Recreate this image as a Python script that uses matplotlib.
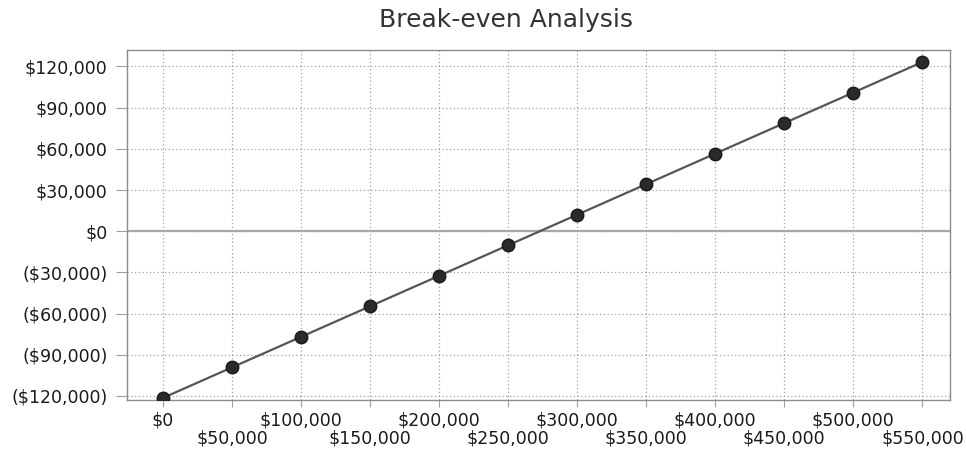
import numpy as np
import matplotlib
matplotlib.use("Agg")
import matplotlib.pyplot as plt
from matplotlib.ticker import FuncFormatter, FixedLocator

# ── Data: sales revenue vs. profit (loss) ────────────────────────
sales  = [0, 50000, 100000, 150000, 200000, 250000,
          300000, 350000, 400000, 450000, 500000, 550000]
profit = [-121500, -99250, -77000, -54750, -32500, -10250,
          12000, 34250, 56500, 78750, 101000, 123250]

x_ticks = [0, 50000, 100000, 150000, 200000, 250000,
           300000, 350000, 400000, 450000, 500000, 550000]
y_ticks = [-120000, -90000, -60000, -30000, 0, 30000, 60000, 90000, 120000]


def money(v, pos=None):
    if v < 0:
        return f"(${-v:,.0f})"
    return f"${v:,.0f}"


fig = plt.figure(figsize=(9.66, 4.51), dpi=100)
ax = fig.add_axes([127 / 966, 51 / 451, 823 / 966, 350 / 451])

# grid + zero line
ax.set_axisbelow(True)
ax.grid(True, which='both', color='#a0a0a0', ls=(0, (1, 2)), lw=0.9)
ax.axhline(0, color='#a8a8a8', lw=1.6, zorder=1)

ax.plot(sales, profit, color='#555555', lw=1.6, zorder=3)
ax.plot(sales, profit, 'o', color='#2a2a2a', ms=9, mec='#1a1a1a', zorder=4)

ax.set_xlim(-26000, 570000)
ax.set_ylim(-123000, 132000)

# x labels staggered on two rows: even ticks as major, odd ticks as minor
ax.xaxis.set_major_locator(FixedLocator(x_ticks[0::2]))
ax.xaxis.set_minor_locator(FixedLocator(x_ticks[1::2]))
ax.xaxis.set_major_formatter(FuncFormatter(money))
ax.xaxis.set_minor_formatter(FuncFormatter(money))
ax.yaxis.set_major_locator(FixedLocator(y_ticks))
ax.yaxis.set_minor_locator(FixedLocator([]))
ax.yaxis.set_major_formatter(FuncFormatter(money))

ax.tick_params(axis='both', which='both', labelsize=12.5, colors='#a0a0a0',
               labelcolor='#1a1a1a', width=0.8, direction='out')
ax.tick_params(axis='x', which='major', length=5, pad=3)
ax.tick_params(axis='x', which='minor', length=5, pad=16)
ax.tick_params(axis='y', length=8, pad=6)

for s in ax.spines.values():
    s.set_color('#8c8c8c')
    s.set_linewidth(1.0)

fig.text(506 / 966, 1 - 20 / 451, "Break-even Analysis",
         ha='center', va='center', fontsize=18, color='#333333')

plt.savefig("out.png", dpi=100)
